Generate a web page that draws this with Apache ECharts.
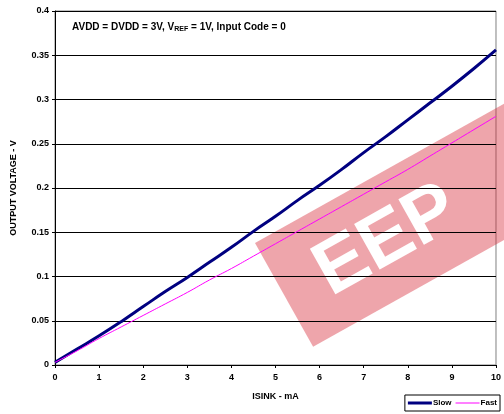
<!DOCTYPE html>
<html><head><meta charset="utf-8">
<script src="https://cdn.jsdelivr.net/npm/echarts@6/dist/echarts.min.js"></script>
<style>html,body{margin:0;padding:0;background:#fff}#c{width:504px;height:414px}</style>
</head><body><div id="c"></div>
<script>
const isink = [0,0.5,1,1.5,2,2.5,3,3.5,4,4.5,5,5.5,6,6.5,7,7.5,8,8.5,9,9.5,10];
const slow = [0.003,0.018,0.033,0.049,0.066,0.083,0.099,0.116,0.133,0.151,0.168,0.186,0.203,0.221,0.240,0.258,0.277,0.296,0.315,0.335,0.356];
const fast = [0.003,0.016,0.030,0.043,0.056,0.069,0.082,0.096,0.109,0.123,0.137,0.151,0.165,0.179,0.193,0.207,0.221,0.236,0.251,0.266,0.281];
const xTicks = [0,1,2,3,4,5,6,7,8,9,10];
const yTicks = [0,0.05,0.1,0.15,0.2,0.25,0.3,0.35,0.4];

const F = 'Liberation Sans, Arial, sans-serif';
const chart = echarts.init(document.getElementById('c'));
chart.setOption({
  animation: false,
  backgroundColor: '#fff',
  title: {
    left: 67, top: 16,
    text: '{a|AVDD = DVDD = 3V, V}{s|REF}{a| = 1V, Input Code = 0}',
    textStyle: {
      rich: {
        a: {fontFamily: F, fontWeight: 'bold', fontSize: 10, color: '#000', lineHeight: 12},
        s: {fontFamily: F, fontWeight: 'bold', fontSize: 7, color: '#000', lineHeight: 12, padding: [5,0,0,0]}
      }
    }
  },
  grid: {left: 55, right: 5, top: 11, bottom: 49, show: true, borderColor: '#808080', borderWidth: 1},
  xAxis: {
    type: 'value', min: 0, max: 10, interval: 1,
    name: 'ISINK - mA', nameLocation: 'middle', nameGap: 27,
    nameTextStyle: {fontFamily: F, fontWeight: 'bold', fontSize: 9, color: '#000'},
    axisLine: {lineStyle: {color: '#000', width: 1}},
    axisTick: {show: true, length: 3, lineStyle: {color: '#000'}},
    axisLabel: {fontFamily: F, fontWeight: 'bold', fontSize: 9, color: '#000', margin: 8,
      formatter: v => xTicks.includes(v) ? String(v) : ''},
    splitLine: {show: false}
  },
  yAxis: {
    type: 'value', min: 0, max: 0.4, interval: 0.05,
    name: 'OUTPUT VOLTAGE - V', nameLocation: 'middle', nameGap: 37,
    nameTextStyle: {fontFamily: F, fontWeight: 'bold', fontSize: 9, color: '#000'},
    axisLine: {show: true, lineStyle: {color: '#000', width: 1}},
    axisTick: {show: true, length: 3, lineStyle: {color: '#000'}},
    axisLabel: {fontFamily: F, fontWeight: 'bold', fontSize: 9, color: '#000', margin: 6,
      formatter: v => { const t = yTicks.find(y => Math.abs(y - v) < 1e-9); return t === undefined ? '' : String(+t.toFixed(2)); }},
    splitLine: {show: true, lineStyle: {color: '#000', width: 1}}
  },
  legend: {
    right: 4, bottom: 3, orient: 'horizontal',
    borderColor: '#000', borderWidth: 1, padding: [4, 3, 4, 3], itemGap: 4,
    itemWidth: 24, itemHeight: 3,
    textStyle: {fontFamily: F, fontWeight: 'bold', fontSize: 8, color: '#000', padding: [0,0,0,-4]},
    data: [
      {name: 'Slow', icon: 'path://M0,0H24V3H0Z'},
      {name: 'Fast', icon: 'path://M0,1H24V2H0Z'}
    ]
  },
  series: [
    {name: 'Slow', type: 'line', data: isink.map((x, i) => [x, slow[i]]), symbol: 'none', smooth: true,
     lineStyle: {color: '#000080', width: 3}, itemStyle: {color: '#000080'}, z: 3},
    {name: 'Fast', type: 'line', data: isink.map((x, i) => [x, fast[i]]), symbol: 'none', smooth: true,
     lineStyle: {color: '#ff00ff', width: 1}, itemStyle: {color: '#ff00ff'}, z: 4}
  ],
  graphic: [{
    type: 'group', x: 255, y: 243, rotation: 0.51, z: 100,
    children: [
      {type: 'rect', shape: {x: 0, y: 0, width: 300, height: 119}, style: {fill: 'rgba(215,40,55,0.42)'}},
      {type: 'text', x: 40, y: 25, style: {text: 'EEP', fill: '#fff', font: 'bold 76px ' + F}}
    ]
  }]
});
</script></body></html>
